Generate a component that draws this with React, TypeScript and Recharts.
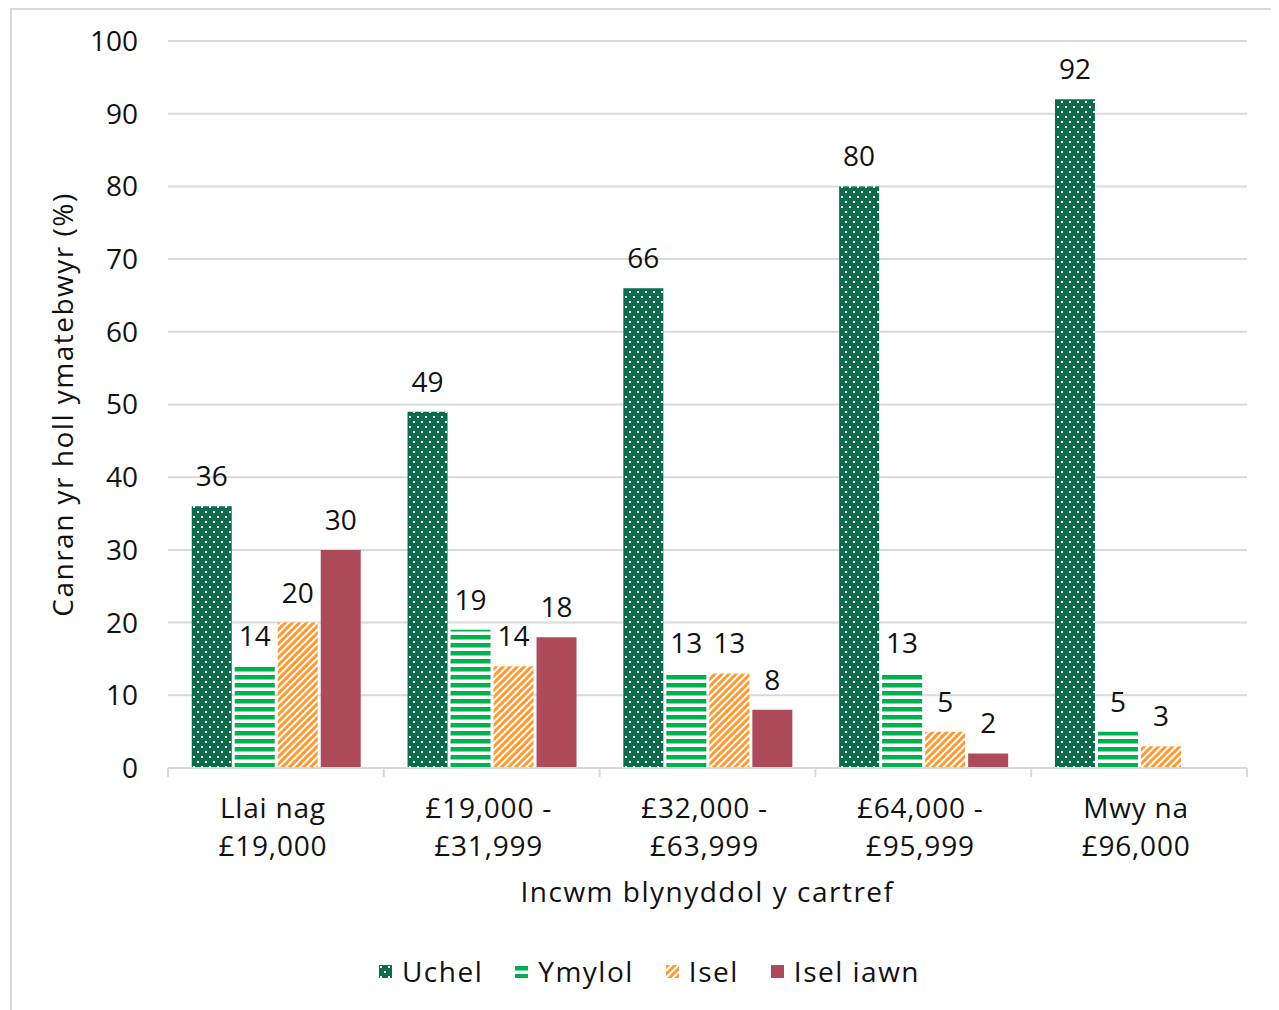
import { BarChart, Bar, XAxis, YAxis, CartesianGrid, Legend, LabelList } from "recharts";

const categories = ["Llai nag\n£19,000", "£19,000 -\n£31,999", "£32,000 -\n£63,999", "£64,000 -\n£95,999", "Mwy na\n£96,000"];
const uchel = [36, 49, 66, 80, 92];
const ymylol = [14, 19, 13, 13, 5];
const isel = [20, 14, 13, 5, 3];
const iselIawn = [30, 18, 8, 2, null];
const yTicks = [0, 10, 20, 30, 40, 50, 60, 70, 80, 90, 100];

const data = categories.map((name, i) => ({
  name,
  uchel: uchel[i],
  ymylol: ymylol[i],
  isel: isel[i],
  iselIawn: iselIawn[i],
}));

const FONT = "'Open Sans', 'Noto Sans', sans-serif";
const FS = 28;
const LS = 1.5;
const INK = "#111";
const W = 1264;
const H = 998;
const PLOT_LEFT = 156;
const PLOT_RIGHT = 1235;
const PLOT_TOP = 31;
const PLOT_BOTTOM = 758;
const BAND = (PLOT_RIGHT - PLOT_LEFT) / categories.length;

const series = [
  { key: "uchel", name: "Uchel", fill: "url(#pUchel)" },
  { key: "ymylol", name: "Ymylol", fill: "url(#pYmylol)" },
  { key: "isel", name: "Isel", fill: "url(#pIsel)" },
  { key: "iselIawn", name: "Isel iawn", fill: "#AD4B5B" },
];

const Patterns = () => (
  <defs>
    <pattern id="pUchel" width="8" height="10" patternUnits="userSpaceOnUse">
      <rect width="8" height="10" fill="#0B6B4B" />
      <rect x="1" y="1" width="2" height="2" fill="#fff" />
      <rect x="5" y="6" width="2" height="2" fill="#fff" />
    </pattern>
    <pattern id="pYmylol" width="8" height="8" patternUnits="userSpaceOnUse">
      <rect width="8" height="8" fill="#fff" />
      <rect y="1" width="8" height="4.5" fill="#00B050" />
    </pattern>
    <pattern id="pIsel" width="5" height="5" patternUnits="userSpaceOnUse" patternTransform="rotate(45)">
      <rect width="5" height="5" fill="#fff" />
      <rect width="3" height="5" fill="#FF9A33" />
    </pattern>
  </defs>
);

const XTick = (props: any) => {
  const { x, index, payload } = props;
  const lines = String(payload.value).split("\n");
  const left = x - BAND / 2;
  return (
    <g>
      <line x1={left} x2={left} y1={PLOT_BOTTOM} y2={PLOT_BOTTOM + 9} stroke="#D9D9D9" strokeWidth={2} />
      {index === categories.length - 1 && (
        <line x1={x + BAND / 2} x2={x + BAND / 2} y1={PLOT_BOTTOM} y2={PLOT_BOTTOM + 9} stroke="#D9D9D9" strokeWidth={2} />
      )}
      {lines.map((l, i) => (
        <text key={i} x={x - 3} y={PLOT_BOTTOM + 50 + i * 38} textAnchor="middle" fontSize={FS} letterSpacing={0.8} fill={INK} fontFamily={FONT}>
          {l}
        </text>
      ))}
    </g>
  );
};

const XTitle = () => (
  <text x={(PLOT_LEFT + PLOT_RIGHT) / 2} y={PLOT_BOTTOM + 134} textAnchor="middle" fontSize={FS} letterSpacing={LS} fill={INK} fontFamily={FONT}>
    Incwm blynyddol y cartref
  </text>
);

const YTitle = () => {
  const cx = 50;
  const cy = (PLOT_TOP + PLOT_BOTTOM) / 2;
  return (
    <text x={cx} y={cy} transform={`rotate(-90, ${cx}, ${cy})`} textAnchor="middle" dominantBaseline="central" fontSize={FS} letterSpacing={LS} fill={INK} fontFamily={FONT}>
      Canran yr holl ymatebwyr (%)
    </text>
  );
};

const LegendContent = () => (
  <div style={{ height: 40, display: "flex", justifyContent: "center", alignItems: "center", gap: 32, fontFamily: FONT, fontSize: FS, letterSpacing: LS, color: INK }}>
    {series.map((s) => (
      <span key={s.key} style={{ display: "flex", alignItems: "center", gap: 10 }}>
        <svg width={13} height={13}>
          <rect width={13} height={13} fill={s.fill} />
        </svg>
        {s.name}
      </span>
    ))}
  </div>
);

export default function App() {
  return (
    <div style={{ marginLeft: 2, width: W, height: H + 4, border: "2px solid #D9D9D9", background: "#fff" }}>
      <BarChart
        width={W}
        height={H}
        data={data}
        margin={{ top: PLOT_TOP, right: W - PLOT_RIGHT, left: 66, bottom: 50 }}
        barCategoryGap="11%"
        barGap={3}
      >
        <Patterns />
        <CartesianGrid vertical={false} stroke="#D9D9D9" strokeWidth={2} />
        <XAxis
          dataKey="name"
          height={150}
          interval={0}
          tickLine={false}
          axisLine={{ stroke: "#D9D9D9", strokeWidth: 2 }}
          tick={<XTick />}
          label={<XTitle />}
        />
        <YAxis
          width={90}
          domain={[0, 100]}
          ticks={yTicks}
          interval={0}
          axisLine={false}
          tickLine={false}
          tickSize={6}
          tickMargin={24}
          tick={{ fontSize: FS, fill: INK, fontFamily: FONT }}
          label={<YTitle />}
        />
        <Legend content={<LegendContent />} wrapperStyle={{ bottom: 17, left: 11, width: W - 11 }} />
        {series.map((s) => (
          <Bar key={s.key} dataKey={s.key} name={s.name} fill={s.fill} isAnimationActive={false}>
            <LabelList dataKey={s.key} position="top" offset={20} fontSize={FS} fill={INK} fontFamily={FONT} />
          </Bar>
        ))}
      </BarChart>
    </div>
  );
}
